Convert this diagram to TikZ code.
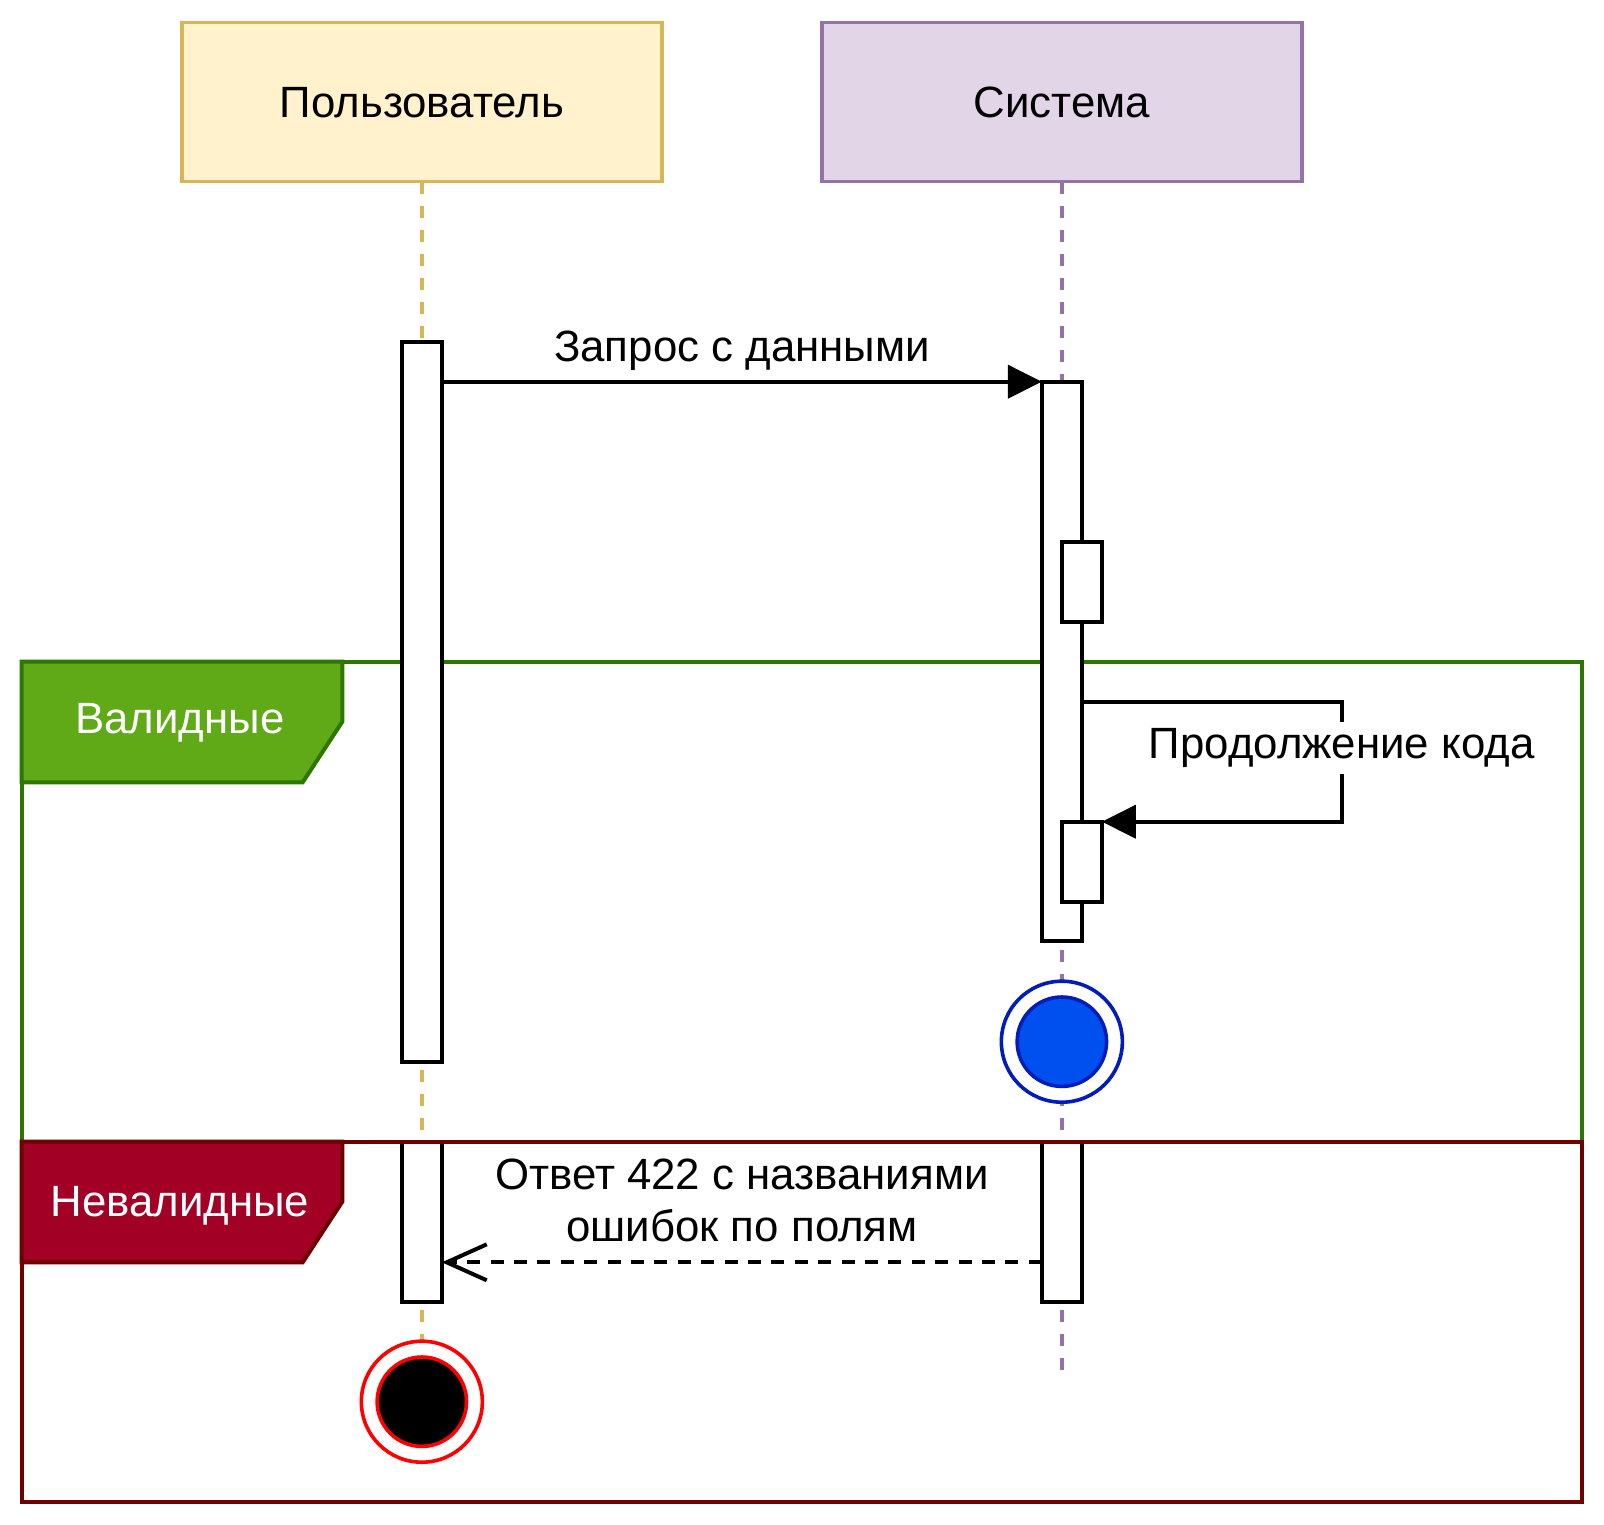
\documentclass[tikz,border=0pt]{standalone}
\usepackage{fontspec}
\setmainfont{Liberation Sans}
\usetikzlibrary{arrows.meta}
\definecolor{userfill}{HTML}{FFF2CC}
\definecolor{userline}{HTML}{D6B656}
\definecolor{sysfill}{HTML}{E1D5E7}
\definecolor{sysline}{HTML}{9673A6}
\definecolor{okfill}{HTML}{60A917}
\definecolor{okline}{HTML}{2D7600}
\definecolor{badfill}{HTML}{A20025}
\definecolor{badline}{HTML}{6F0000}
\definecolor{endblue}{HTML}{0050EF}
\definecolor{endblueline}{HTML}{001DBC}
\definecolor{endred}{HTML}{FF0000}
\begin{document}
\begin{tikzpicture}[x=0.5pt,y=-0.5pt,
  every node/.style={inner sep=0pt, outer sep=0pt},
  txt/.style={font=\fontsize{21.9pt}{26pt}\selectfont},
  header/.style={txt, draw, line width=1.8pt, minimum width=240.15pt, minimum height=79.5pt},
  lifeline/.style={line width=1.8pt, dash pattern=on 6pt off 6pt},
  activation/.style={draw=black, fill=white, line width=2pt, minimum width=20pt},
  msg/.style={line width=2pt, -{Triangle[length=17pt,width=16.5pt]}},
  reply/.style={line width=2pt, dash pattern=on 6.5pt off 5.2pt, -{Straight Barb[length=20pt,width=18pt]}},
  frame/.style={line width=2pt},
  tagtext/.style={txt, text=white, anchor=base},
  endring/.style={circle, fill=white, line width=1.8pt, minimum size=60.5pt},
  enddot/.style={circle, line width=1.8pt, minimum size=44.7pt},
]
\useasboundingbox (0,0) rectangle (1604,1524);

% combined fragment: valid data
\draw[frame, draw=okline] (21.7,661.7) rectangle (1581.7,1141.7);
\draw[frame, fill=okfill, draw=okline] (21.7,661.7) -- (342.3,661.7) -- (342.3,721.7)
  -- (302.7,782.3) -- (21.7,782.3) -- cycle;
\node[tagtext] (okTag) at (180,733.3) {Валидные};

% participants
\node[header, fill=userfill, draw=userline] (user) at (421.85,102.2) {Пользователь};
\node[header, fill=sysfill, draw=sysline] (sys) at (1061.85,102.2) {Система};

% lifelines
\coordinate (userStop) at (421.85,1401.7);
\coordinate (sysStop) at (1061.85,1369.7);
\draw[lifeline, draw=userline] (user.south) -- (userStop);
\draw[lifeline, draw=sysline] (sys.south) -- (sysStop);

% activations
\node[activation, minimum height=360pt] (userAct) at (421.85,701.7) {};
\node[activation, minimum height=279.65pt] (sysAct) at (1061.85,661.35) {};
\node[activation, minimum height=40pt] (exec1) at (1081.85,582) {};
\node[activation, minimum height=40pt] (exec2) at (1081.85,861.7) {};

% request
\draw[msg] (userAct.east |- sysAct.north) -- (sysAct.north west);
\node[txt, anchor=base] (reqLabel) at (742,361) {Запрос с данными};

% self call
\coordinate (selfY) at (0,701.7);
\coordinate (selfOut) at (sysAct.east |- selfY);
\coordinate (loopTurn) at (1341.7,761.7);
\draw[msg] (selfOut) -| (loopTurn) |- (exec2.north east);
\node[txt, fill=white, inner ysep=3pt] (loopLabel) at (1341.7,748) {Продолжение кода};

% final states
\node[endring, draw=endblueline] (okEnd) at (1061.85,1041.7) {};
\node[enddot, draw=endblueline, fill=endblue] (okDot) at (okEnd) {};
\node[endring, draw=endred] (failEnd) at (421.85,1401.7) {};
\node[enddot, draw=endred, fill=black] (failDot) at (failEnd) {};

% invalid data branch
\node[activation, minimum height=80pt] (userAct2) at (421.85,1221.7) {};
\node[activation, minimum height=80pt] (sysAct2) at (1061.85,1221.7) {};

\draw[frame, draw=badline] (21.7,1141.7) rectangle (1581.7,1501.7);
\draw[frame, fill=badfill, draw=badline] (21.7,1141.7) -- (342.3,1141.7) -- (342.3,1201.7)
  -- (302.7,1262.3) -- (21.7,1262.3) -- cycle;
\node[tagtext] (badTag) at (180,1216) {Невалидные};

\coordinate (retY) at (0,1262.3);
\draw[reply] (sysAct2.west |- retY) -- (userAct2.east |- retY);
\node[txt, anchor=base] (resp1) at (742,1189) {Ответ 422 с названиями};
\node[txt, anchor=base] (resp2) at (742,1241.6) {ошибок по полям};
\end{tikzpicture}
\end{document}
